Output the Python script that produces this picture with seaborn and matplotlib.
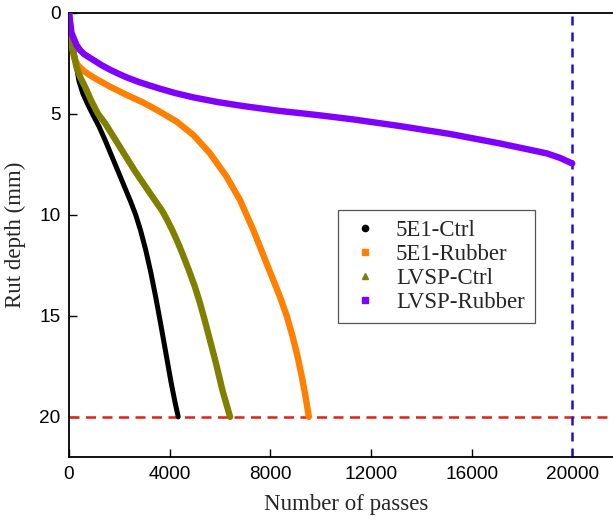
import matplotlib
matplotlib.use("Agg")
import matplotlib.pyplot as plt
from matplotlib.lines import Line2D
import seaborn as sns
import pandas as pd

# ---- data ----
ctrl_5e1_x = [0, 80, 200, 300, 400, 550, 750, 950, 1200, 1450, 1650, 1850, 2050, 2250,
              2450, 2650, 2850, 3050, 3250, 3450, 3650, 3850, 4050, 4200, 4340]
ctrl_5e1_y = [0, 1.0, 1.9, 2.7, 3.4, 4.0, 4.55, 5.05, 5.65, 6.35, 6.95, 7.55, 8.15, 8.75,
              9.35, 10.0, 10.8, 11.75, 12.85, 14.1, 15.45, 16.85, 18.25, 19.2, 20.0]

rub_5e1_x = [0, 40, 100, 200, 350, 600, 967, 1629, 2291, 2953, 3615, 4278, 4940, 5602,
             6264, 6794, 7324, 7853, 8383, 8650, 8880, 9080, 9250, 9400, 9530]
rub_5e1_y = [0, 0.8, 1.5, 2.2, 2.6, 2.9, 3.2, 3.66, 4.07, 4.45, 4.90, 5.39, 6.05, 6.96,
             8.12, 9.27, 10.76, 12.41, 14.06, 15.0, 16.0, 17.0, 18.0, 19.0, 20.0]

ctrl_lvsp_x = [0, 60, 150, 300, 450, 650, 900, 1150, 1450, 1700, 2000, 2300, 2600, 2900,
               3200, 3450, 3700, 3900, 4100, 4300, 4500, 4750, 5000, 5200, 5400, 5600,
               5850, 6100, 6400]
ctrl_lvsp_y = [0, 0.9, 1.85, 2.7, 3.2, 3.7, 4.4, 5.0, 5.5, 6.0, 6.6, 7.2, 7.8, 8.35,
               8.9, 9.35, 9.8, 10.25, 10.75, 11.3, 11.9, 12.7, 13.55, 14.35, 15.25, 16.2,
               17.4, 18.7, 20.0]

rub_lvsp_x = [0, 100, 300, 437, 600, 967, 1300, 1629, 2000, 2291, 2800, 3200, 3615,
              4200, 4940, 5900, 6926, 8300, 9840, 11295, 13150, 15137, 17124, 18979,
              19500, 19996]
rub_lvsp_y = [0, 1.0, 1.6, 1.85, 2.05, 2.34, 2.6, 2.82, 3.04, 3.2, 3.44, 3.6, 3.76,
              3.97, 4.19, 4.42, 4.62, 4.85, 5.06, 5.28, 5.61, 6.00, 6.47, 6.96,
              7.18, 7.46]

series_names = ["5E1-Ctrl", "5E1-Rubber", "LVSP-Ctrl", "LVSP-Rubber"]
series_colors = ["#000000", "#FF8000", "#808000", "#8000FF"]
series_markers = ["o", "s", "^", "s"]

rut_limit = 20
pass_limit = 20000
x_ticks = [0, 4000, 8000, 12000, 16000, 20000]
y_ticks = [0, 5, 10, 15, 20]

# ---- figure ----
sns.set_theme(style="white")
plt.rcParams["font.family"] = ["Liberation Sans", "DejaVu Sans"]

fig = plt.figure(figsize=(6.13, 5.25), dpi=100)
ax = fig.add_axes([69 / 613, (525 - 457.3) / 525, (622.7 - 69) / 613, (457.3 - 12.7) / 525])

data = [(ctrl_5e1_x, ctrl_5e1_y), (rub_5e1_x, rub_5e1_y),
        (ctrl_lvsp_x, ctrl_lvsp_y), (rub_lvsp_x, rub_lvsp_y)]
widths = [3.6, 4.6, 4.6, 4.6]
order = [0, 1, 3, 2]
for i in order:
    xs, ys = data[i]
    df = pd.DataFrame({"x": xs, "y": ys})
    sns.lineplot(data=df, x="x", y="y", ax=ax, color=series_colors[i], lw=widths[i],
                 sort=False, estimator=None, solid_capstyle="round",
                 solid_joinstyle="round", zorder=3 + i)

ax.axhline(rut_limit, color="#E0201C", lw=1.8, dashes=(4, 2.6), zorder=2)
ax.axvline(pass_limit, color="#1414D8", lw=1.8, dashes=(3.6, 2.8), zorder=2)

ax.set_xlim(0, 22000)
ax.set_ylim(22, 0)
ax.set_xticks(x_ticks)
ax.set_yticks(y_ticks)
ax.set_xticklabels([str(t) for t in x_ticks])
ax.set_yticklabels([str(t) for t in y_ticks])
ax.tick_params(direction="in", length=5.8, width=1.0, labelsize=13.7, pad=6,
               colors="black", bottom=True, left=True)

for side in ["left", "bottom", "top"]:
    ax.spines[side].set_visible(True)
    ax.spines[side].set_color("black")
    ax.spines[side].set_linewidth(1.3)
ax.spines["right"].set_visible(False)

serif = ["Liberation Serif", "DejaVu Serif"]
ax.set_xlabel("Number of passes", fontsize=16.5, family=serif, labelpad=8)
ax.set_ylabel("Rut depth (mm)", fontsize=16.5, family=serif, labelpad=10)

handles = [Line2D([], [], ls="none", marker=m, color=c, markersize=4.5)
           for m, c in zip(series_markers, series_colors)]
leg = ax.legend(handles, series_names, loc="upper left",
                bbox_to_anchor=(338 / 613, 1 - 210 / 525), bbox_transform=fig.transFigure,
                borderaxespad=0, prop={"family": serif, "size": 16.5},
                frameon=True, fancybox=False, edgecolor="#555555", framealpha=1,
                handlelength=1.46, handletextpad=0.62, labelspacing=0.12,
                borderpad=0.45)
leg.get_frame().set_linewidth(0.9)

fig.savefig("out.png", dpi=100)
